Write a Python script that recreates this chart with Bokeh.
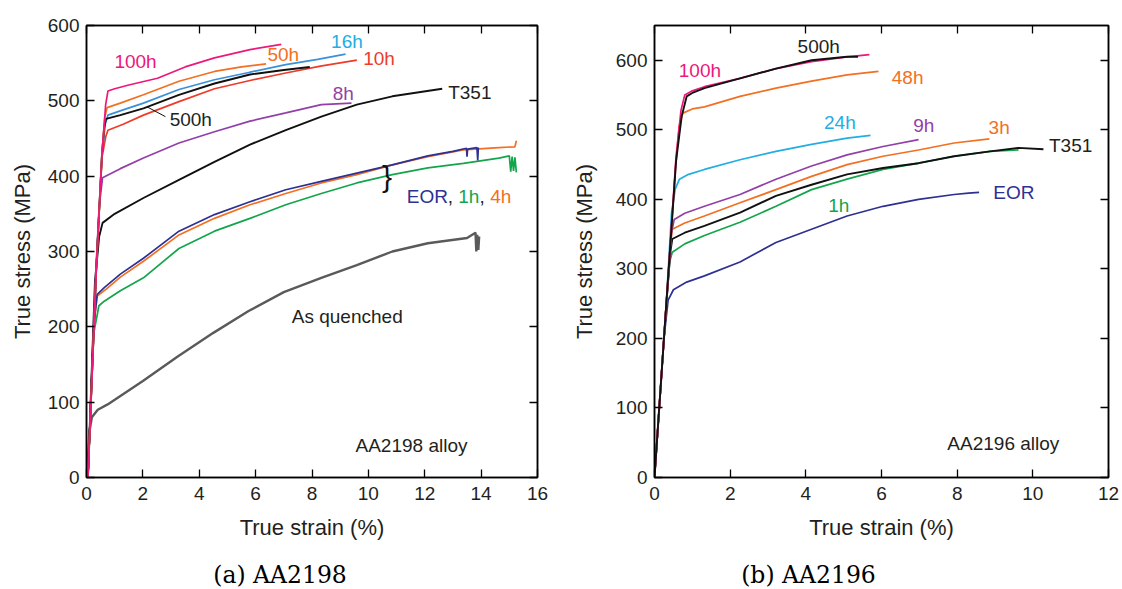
from bokeh.plotting import figure
from bokeh.models import Range1d, LinearAxis, FixedTicker
from bokeh.layouts import row, column
from bokeh.embed import file_html
from bokeh.resources import INLINE
from bokeh.core.properties import value

# ---------------- (a) AA2198 : true strain (%) vs true stress (MPa) ----------------
a_100h_x = [0.05, 0.35, 0.55, 0.68, 0.76, 1.0, 1.5, 2.52, 3.5, 4.54, 5.8, 6.91]
a_100h_y = [0, 280, 430, 495, 513, 516, 521, 530, 545, 557, 568, 575]
a_50h_x = [0.05, 0.35, 0.55, 0.65, 0.73, 1.2, 2.02, 3.28, 4.54, 5.5, 6.37]
a_50h_y = [0, 280, 430, 478, 491, 497, 508, 526, 539, 545, 549]
a_16h_x = [0.05, 0.35, 0.55, 0.67, 0.76, 1.3, 2.02, 3.28, 4.54, 5.8, 7.07, 8.2, 9.19]
a_16h_y = [0, 280, 430, 470, 481, 488, 497, 515, 528, 538, 548, 555, 562]
a_500h_x = [0.05, 0.35, 0.55, 0.63, 0.69, 1.2, 2.02, 3.28, 4.54, 5.8, 7.0, 7.92]
a_500h_y = [0, 280, 430, 465, 476, 481, 490, 508, 523, 535, 541, 545]
a_10h_x = [0.05, 0.35, 0.55, 0.68, 0.76, 1.3, 2.02, 3.28, 4.54, 5.8, 7.07, 8.3, 9.59]
a_10h_y = [0, 280, 425, 452, 461, 469, 481, 499, 516, 527, 537, 546, 554]
a_8h_x = [0.05, 0.3, 0.45, 0.57, 1.2, 2.02, 3.28, 4.54, 5.8, 7.07, 8.33, 9.4]
a_8h_y = [0, 250, 360, 398, 410, 424, 444, 459, 473, 484, 495, 497]
a_t351_x = [0.05, 0.3, 0.45, 0.57, 1.0, 2.02, 3.28, 4.54, 5.8, 7.07, 8.33, 9.59, 10.85, 12.62]
a_t351_y = [0, 260, 320, 338, 350, 371, 395, 419, 442, 461, 479, 495, 506, 516]
a_eor_x = [0.05, 0.25, 0.38, 0.63, 1.2, 2.02, 3.28, 4.54, 5.8, 7.07, 8.33, 9.59, 10.85,
           12.11, 13.0, 13.48, 13.5, 13.52, 13.85, 13.88, 13.9]
a_eor_y = [0, 200, 243, 252, 270, 291, 327, 349, 366, 382, 393, 404, 415,
           427, 433, 437, 426, 436, 438, 421, 438]
a_4h_x = [0.05, 0.25, 0.38, 0.7, 1.2, 2.02, 3.28, 4.54, 5.8, 7.07, 8.33, 9.59, 10.85,
          12.11, 13.37, 14.63, 15.2, 15.25]
a_4h_y = [0, 200, 241, 250, 266, 287, 322, 344, 362, 377, 391, 402, 415,
          426, 435, 438, 439, 447]
a_1h_x = [0.05, 0.25, 0.44, 0.63, 1.2, 2.02, 3.28, 4.54, 5.8, 7.07, 8.33, 9.59, 10.85,
          12.11, 13.37, 14.63, 15.0, 15.05, 15.1, 15.15, 15.2, 15.25]
a_1h_y = [0, 190, 228, 234, 248, 265, 304, 327, 344, 362, 377, 391, 402,
          411, 417, 424, 427, 406, 426, 407, 425, 405]
a_aq_x = [0.0, 0.1, 0.19, 0.4, 0.75, 2.0, 3.25, 4.5, 5.75, 7.0, 8.33, 9.59, 10.85,
          12.11, 13.5, 13.8, 13.83, 13.86, 13.9, 13.93]
a_aq_y = [0, 60, 80, 90, 97, 128, 161, 192, 221, 246, 265, 282, 300,
          311, 318, 325, 300, 322, 302, 320]

# ---------------- (b) AA2196 ----------------
b_100h_x = [0, 0.3, 0.57, 0.7, 0.8, 1.0, 1.32, 2.26, 3.21, 4.15, 5.09, 5.68]
b_100h_y = [0, 240, 462, 528, 550, 556, 562, 574, 588, 598, 605, 608]
b_500h_x = [0, 0.3, 0.57, 0.72, 0.85, 1.0, 1.32, 2.26, 3.21, 4.15, 5.09, 5.38]
b_500h_y = [0, 240, 455, 520, 548, 553, 560, 574, 588, 600, 605, 605]
b_48h_x = [0, 0.3, 0.55, 0.65, 0.75, 1.0, 1.32, 2.26, 3.21, 4.15, 5.09, 5.92]
b_48h_y = [0, 240, 440, 505, 524, 530, 533, 548, 560, 570, 579, 584]
b_24h_x = [0, 0.3, 0.45, 0.55, 0.66, 0.9, 1.32, 2.26, 3.21, 4.15, 5.09, 5.71]
b_24h_y = [0, 240, 380, 415, 429, 436, 443, 457, 469, 479, 488, 492]
b_9h_x = [0, 0.3, 0.45, 0.52, 0.8, 1.32, 2.26, 3.21, 4.15, 5.09, 6.04, 6.98]
b_9h_y = [0, 240, 352, 371, 380, 390, 407, 429, 448, 464, 476, 486]
b_3h_x = [0, 0.3, 0.42, 0.47, 0.8, 1.32, 2.26, 3.21, 4.15, 5.09, 6.04, 6.98, 7.92, 8.85]
b_3h_y = [0, 240, 335, 357, 366, 376, 395, 414, 433, 450, 462, 471, 481, 487]
b_t351_x = [0, 0.3, 0.42, 0.47, 0.8, 1.32, 2.26, 3.21, 4.15, 5.09, 6.04, 6.98, 7.92, 8.87, 9.62, 10.28]
b_t351_y = [0, 240, 325, 343, 352, 362, 381, 405, 421, 436, 445, 452, 462, 469, 474, 472]
b_1h_x = [0, 0.3, 0.4, 0.47, 0.8, 1.32, 2.26, 3.21, 4.15, 5.09, 6.04, 6.98, 7.92, 8.87, 9.62]
b_1h_y = [0, 240, 310, 324, 336, 348, 367, 390, 414, 429, 443, 452, 462, 469, 471]
b_eor_x = [0, 0.25, 0.36, 0.5, 0.85, 1.32, 2.26, 3.21, 4.15, 5.09, 6.04, 6.98, 7.92, 8.3, 8.58]
b_eor_y = [0, 200, 255, 270, 281, 290, 310, 338, 357, 376, 390, 400, 407, 409, 410]

a_xticks = [0, 2, 4, 6, 8, 10, 12, 14, 16]
a_yticks = [0, 100, 200, 300, 400, 500, 600]
b_xticks = [0, 2, 4, 6, 8, 10, 12]
b_yticks = [0, 100, 200, 300, 400, 500, 600]

FONT = "Liberation Sans"
MAGENTA = "#EC187C"
ORANGE = "#F36F21"
BLUE = "#3A90DA"
CYAN = "#22AEE4"
RED = "#EE3B2A"
PURPLE = "#923FA8"
NAVY = "#2E3192"
GREEN = "#13A54B"
GRAY = "#5A5A5A"
BLACK = "#111111"
TXT = "#231F20"


def make_fig(width, height, xr, yr, xticks, yticks, bl, br, bt, bb, ylab_standoff):
    p = figure(width=width, height=height, x_range=Range1d(*xr), y_range=Range1d(*yr),
               output_backend="svg", toolbar_location=None,
               min_border_left=bl, min_border_right=br, min_border_top=bt, min_border_bottom=bb,
               x_axis_label="True strain (%)", y_axis_label="True stress (MPa)")
    p.xgrid.visible = False
    p.ygrid.visible = False
    p.outline_line_color = "black"
    p.outline_line_width = 1.5
    p.add_layout(LinearAxis(), "above")
    p.add_layout(LinearAxis(), "right")
    for ax in p.xaxis:
        ax.ticker = FixedTicker(ticks=xticks)
    for ax in p.yaxis:
        ax.ticker = FixedTicker(ticks=yticks)
    for ax in p.axis:
        ax.major_tick_in = 8
        ax.major_tick_out = 0
        ax.minor_tick_line_color = None
        ax.axis_line_color = "black"
        ax.axis_line_width = 1.5
        ax.major_tick_line_color = "black"
        ax.major_tick_line_width = 1.3
        ax.major_label_text_font = FONT
        ax.major_label_text_font_size = "19px"
        ax.major_label_text_color = TXT
        ax.axis_label_text_font = FONT
        ax.axis_label_text_font_size = "22px"
        ax.axis_label_text_font_style = "normal"
        ax.axis_label_text_color = TXT
    p.below[0].major_label_standoff = 9
    p.below[0].axis_label_standoff = 12
    p.left[0].major_label_standoff = 7
    p.left[0].axis_label_standoff = ylab_standoff
    for ax in (p.above[0], p.right[0]):
        ax.major_label_text_font_size = "1px"
        ax.major_label_text_color = None
        ax.major_label_standoff = 0
        ax.axis_label = None
    return p


def caption_fig(width, height, text, cx, cy):
    c = figure(width=width, height=height, x_range=Range1d(0, width), y_range=Range1d(0, height),
               output_backend="svg", toolbar_location=None, title=None,
               x_axis_type=None, y_axis_type=None,
               min_border_left=0, min_border_right=0, min_border_top=0, min_border_bottom=0)
    c.outline_line_color = None
    c.text(x=[cx], y=[height - cy], text=[text], text_font=value("DejaVu Serif"),
           text_font_size="23.5px", text_color="black", text_align="center",
           text_baseline="middle")
    return c


def curve(p, xs, ys, color, w=1.7):
    p.line(xs, ys, line_color=color, line_width=w)


def labels(p, xs, ys, texts, colors, align="center", size="19px"):
    p.text(x=xs, y=ys, text=texts, text_color=colors, text_font=value(FONT),
           text_font_size=size, text_align=align, text_baseline="middle")


# ---------- panel (a) ----------
pa = make_fig(557, 560, (0, 16), (0, 600), a_xticks, a_yticks, 86, 20, 25, 83, 10)
curve(pa, a_aq_x, a_aq_y, GRAY, 2.4)
curve(pa, a_1h_x, a_1h_y, GREEN)
curve(pa, a_4h_x, a_4h_y, ORANGE)
curve(pa, a_eor_x, a_eor_y, NAVY)
curve(pa, a_t351_x, a_t351_y, BLACK, 1.9)
curve(pa, a_8h_x, a_8h_y, PURPLE)
curve(pa, a_10h_x, a_10h_y, RED)
curve(pa, a_16h_x, a_16h_y, BLUE)
curve(pa, a_500h_x, a_500h_y, BLACK, 1.9)
curve(pa, a_50h_x, a_50h_y, ORANGE)
curve(pa, a_100h_x, a_100h_y, MAGENTA)
pa.line([2.15, 2.8], [492, 479], line_color=BLACK, line_width=1)
labels(pa, [1.74, 6.98, 9.24, 10.38, 3.70, 9.11, 13.6, 9.25],
       [552, 561, 579, 556, 475, 510, 511, 214],
       ["100h", "50h", "16h", "10h", "500h", "8h", "T351", "As quenched"],
       [MAGENTA, ORANGE, CYAN, RED, TXT, PURPLE, TXT, TXT])
labels(pa, [11.36, 12.82, 13.19, 13.94, 14.32], [373] * 5,
       ["EOR", ",", "1h", ",", "4h"], [NAVY, TXT, GREEN, TXT, ORANGE], align="left")
labels(pa, [11.53], [43], ["AA2198 alloy"], [TXT])
pa.text(x=[10.66], y=[400], text=["}"], text_color=BLACK, text_font=value(FONT),
        text_font_size="30px", text_align="center", text_baseline="middle")

# ---------- panel (b) ----------
pb = make_fig(565, 560, (0, 12), (0, 650), b_xticks, b_yticks, 97, 14, 25, 80, 16)
curve(pb, b_eor_x, b_eor_y, NAVY)
curve(pb, b_1h_x, b_1h_y, GREEN)
curve(pb, b_t351_x, b_t351_y, BLACK, 1.9)
curve(pb, b_3h_x, b_3h_y, ORANGE)
curve(pb, b_9h_x, b_9h_y, PURPLE)
curve(pb, b_24h_x, b_24h_y, CYAN)
curve(pb, b_48h_x, b_48h_y, ORANGE)
curve(pb, b_100h_x, b_100h_y, MAGENTA)
curve(pb, b_500h_x, b_500h_y, BLACK, 1.9)
labels(pb, [4.34, 1.20, 6.69, 4.90, 7.12, 9.11, 11.0, 9.5, 4.87],
       [620, 585, 575, 510, 506, 504, 477, 410, 391],
       ["500h", "100h", "48h", "24h", "9h", "3h", "T351", "EOR", "1h"],
       [TXT, MAGENTA, ORANGE, CYAN, PURPLE, ORANGE, TXT, NAVY, GREEN])
labels(pb, [9.22], [49], ["AA2196 alloy"], [TXT])

# ---------- captions ----------
ca = caption_fig(557, 29, "(a) AA2198", 279.5, 14)
cb = caption_fig(565, 29, "(b) AA2196", 251, 14)

layout = column(row(pa, pb), row(ca, cb))
open("out.html", "w").write(file_html(layout, INLINE))
